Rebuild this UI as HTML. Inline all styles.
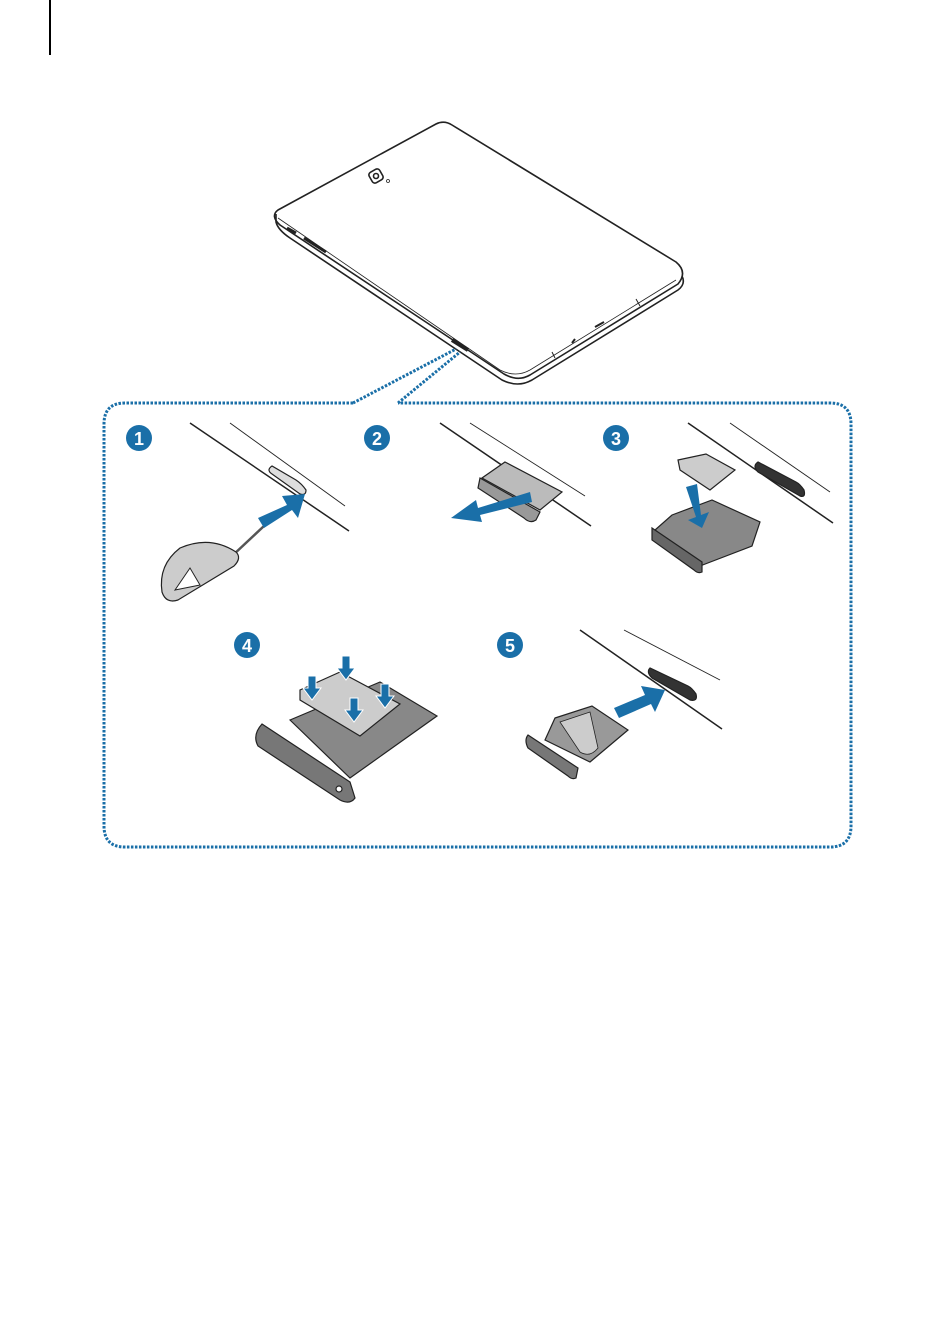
<!DOCTYPE html>
<html><head><meta charset="utf-8"><style>
html,body{margin:0;padding:0;background:#fff;width:950px;height:1344px;overflow:hidden}
</style></head><body>
<svg width="950" height="1344" viewBox="0 0 950 1344" xmlns="http://www.w3.org/2000/svg" font-family="Liberation Sans, sans-serif">
<line x1="50" y1="0" x2="50" y2="55" stroke="#000" stroke-width="2"/>
<!-- tablet -->
<g fill="none" stroke="#222" stroke-width="1.6" stroke-linejoin="round">
<path d="M436,124 Q444,120 452,125 L676,262 Q688,272 678,284 L530,375 Q518,382 504,374 L280,225 Q270,216 278,210 Z" fill="#fff"/>
<path d="M276,214 L276,222 Q278,230 290,238 L502,380 Q518,388 532,380 L678,290 Q686,284 682,276" />
<path d="M278,218 L500,370 Q516,378 530,370 L676,280" stroke-width="0.8"/>
<rect x="370" y="170" width="12" height="12" rx="3" transform="rotate(-30 376 176)"/>
<circle cx="376" cy="176" r="2.5"/>
<circle cx="388" cy="181" r="1.5" stroke-width="0.8"/>
<path d="M287,228 L296,233 M304,238 L326,252" stroke-width="3"/>
<path d="M452,340 L468,350" stroke-width="4"/>
<path d="M595,327 L604,322 M572,343 L575,339" stroke-width="2"/>
<path d="M552,352 L555,358 M636,299 L640,306" stroke-width="1"/>
</g>
<!-- dotted frame -->
<g fill="none" stroke="#1a6fa8" stroke-width="3" stroke-dasharray="2.5,1.5">
<path d="M353,403 L125,403 Q104,403 104,424 L104,826 Q104,847 125,847 L830,847 Q851,847 851,826 L851,424 Q851,403 830,403 L398,403"/>
<path d="M353,403 L456,349"/>
<path d="M398,403 L460,352"/>
</g>
<!-- badges -->
<g fill="#1a6fa8"><circle cx="139" cy="438" r="13"/><circle cx="377" cy="438" r="13"/><circle cx="616" cy="438" r="13"/><circle cx="247" cy="645" r="13"/><circle cx="510" cy="645" r="13"/></g>
<g fill="#fff" font-size="18" font-weight="bold" text-anchor="middle"><text x="139" y="445">1</text><text x="377" y="445">2</text><text x="616" y="445">3</text><text x="247" y="652">4</text><text x="510" y="652">5</text></g>
<!-- panel 1 -->
<g fill="none" stroke="#222">
<line x1="190" y1="423" x2="349" y2="531" stroke-width="1.5"/>
<line x1="230" y1="423" x2="345" y2="506" stroke-width="0.9"/>
<path d="M272,466 Q266,470 272,474 L300,494 Q306,496 306,490 Q302,484 296,480 Z" fill="#ddd" stroke-width="1.2"/>
<line x1="232" y1="556" x2="264" y2="526" stroke-width="2.5" stroke="#555"/>
<path d="M236,552 Q210,535 180,548 Q158,565 162,592 Q166,604 178,600 L234,566 Q242,558 236,552Z" fill="#ccc" stroke-width="1.2"/>
<path d="M175,590 L190,568 L200,585 Z" fill="#fff" stroke-width="1"/>
</g>
<path d="M258,518 L287,505 L282,496 L305,494 L298,518 L292,510 L264,528 Z" fill="#1a6fa8"/>
<!-- panel 2 -->
<g fill="none" stroke="#222">
<line x1="440" y1="423" x2="591" y2="526" stroke-width="1.5"/>
<line x1="470" y1="423" x2="585" y2="496" stroke-width="0.9"/>
<path d="M505,462 L562,492 L540,510 L482,478 Z" fill="#bbb" stroke-width="1.2"/>
<path d="M480,478 L540,512 L536,520 Q530,524 524,518 L478,488 Z" fill="#999" stroke-width="1.2"/>
</g>
<path d="M530,492 L478,508 L476,500 L451,518 L482,522 L480,515 L532,502 Z" fill="#1a6fa8"/>
<!-- panel 3 -->
<g fill="none" stroke="#222">
<line x1="688" y1="423" x2="833" y2="523" stroke-width="1.5"/>
<line x1="730" y1="423" x2="830" y2="492" stroke-width="0.9"/>
<path d="M758,462 Q752,466 758,472 L800,496 Q806,498 804,490 Q800,484 796,482 Z" fill="#333" stroke-width="1.2"/>
<path d="M678,460 L706,454 L735,470 L710,490 L680,470 Z" fill="#ccc" stroke-width="1.2"/>
<path d="M672,515 L712,500 L760,522 L752,546 L700,566 L655,530 Z" fill="#888" stroke-width="1.2"/>
<path d="M652,528 L702,562 L702,572 Q698,574 694,570 L652,540 Z" fill="#666" stroke-width="1.2"/>
</g>
<path d="M686,487 L697,484 L701,515 L709,512 L702,528 L688,520 L696,517 Z" fill="#1a6fa8"/>
<!-- panel 4 -->
<g stroke="#222" stroke-width="1.2">
<path d="M290,720 L380,682 L437,716 L350,778 Z" fill="#888"/>
<path d="M262,724 L350,782 L355,798 Q350,805 340,800 L258,746 Q252,735 262,724 Z" fill="#777"/>
<circle cx="339" cy="789" r="3" fill="#fff"/>
<path d="M300,690 L340,672 L400,704 L360,736 L300,700 Z" fill="#ccc"/>
</g>
<g fill="#1a6fa8" stroke="#fff" stroke-width="1">
<path d="M342,656 L350,656 L350,668 L355,668 L346,680 L337,668 L342,668 Z"/>
<path d="M308,676 L316,676 L316,688 L321,688 L312,700 L303,688 L308,688 Z"/>
<path d="M350,698 L358,698 L358,710 L363,710 L354,722 L345,710 L350,710 Z"/>
<path d="M381,684 L389,684 L389,696 L394,696 L385,708 L376,696 L381,696 Z"/>
</g>
<!-- panel 5 -->
<g fill="none" stroke="#222">
<line x1="580" y1="630" x2="722" y2="729" stroke-width="1.5"/>
<line x1="624" y1="630" x2="720" y2="680" stroke-width="0.9"/>
<path d="M650,668 Q646,672 652,678 L690,700 Q698,702 696,694 Q692,688 688,686 Z" fill="#333" stroke-width="1.2"/>
<path d="M555,718 L592,706 L628,730 L590,762 L545,740 Z" fill="#999" stroke-width="1.2"/>
<path d="M560,722 L590,712 L598,748 Q590,758 580,752 Z" fill="#ccc" stroke-width="0.8"/>
<path d="M528,735 L578,768 L576,778 Q572,780 568,776 L528,748 Q524,740 528,735Z" fill="#777" stroke-width="1.2"/>
</g>
<path d="M614,708 L645,695 L641,686 L665,690 L655,712 L651,704 L619,718 Z" fill="#1a6fa8"/>
</svg>
</body></html>
